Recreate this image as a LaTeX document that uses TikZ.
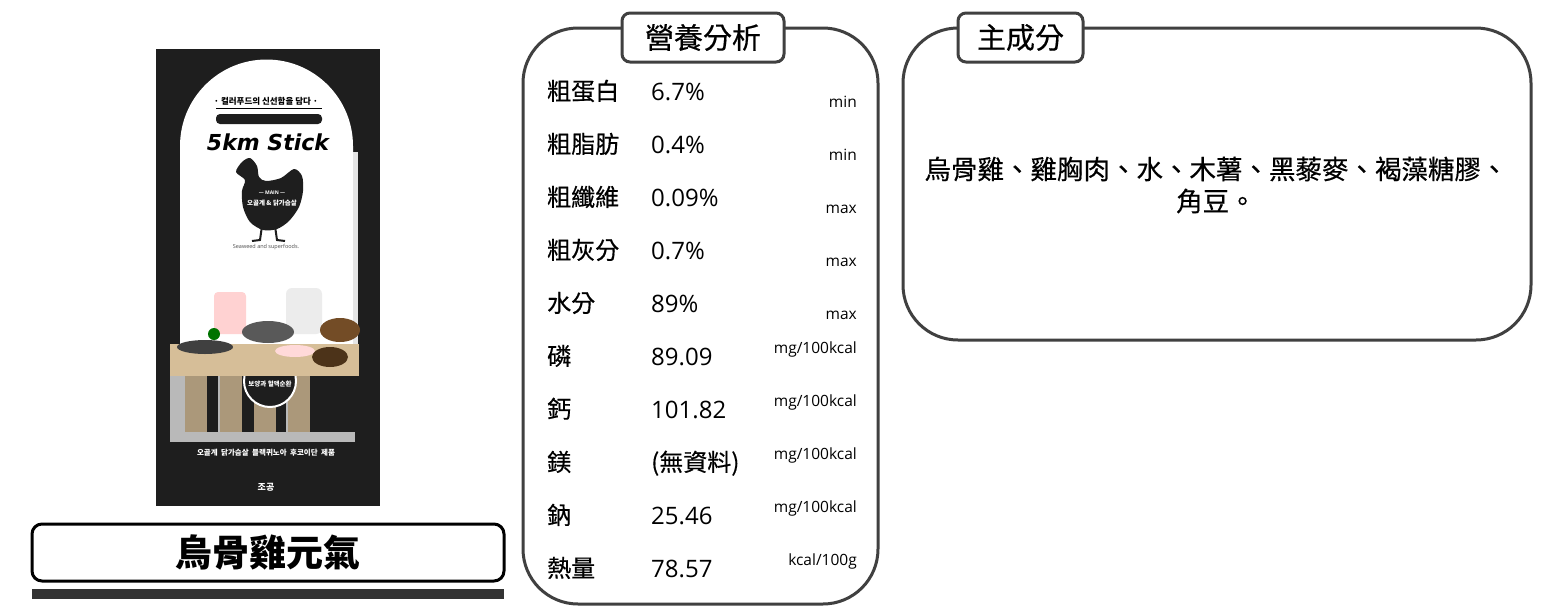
\documentclass[tikz,border=0pt]{standalone}
\usepackage{fontspec}
\setmainfont{Noto Sans CJK TC}
\newfontfamily\med[FakeBold=0.5]{Noto Sans CJK TC}
\newfontfamily\latin{Open Sans}
\newfontfamily\kr{Noto Sans CJK KR}
\newfontfamily\logo{DejaVu Sans}
\definecolor{frame}{HTML}{404040}
\definecolor{bar}{HTML}{333333}
\definecolor{pack}{HTML}{1E1E1E}
\definecolor{board}{HTML}{D6BE98}
\tikzstyle{panel} = [draw=frame, line width=3pt, rounded corners=55pt, inner sep=0pt]
\tikzstyle{tab} = [draw=frame, line width=3pt, fill=white, rounded corners=8pt, minimum height=49pt, inner sep=0pt, font=\med\fontsize{29}{32}\selectfont]
\tikzstyle{namebox} = [draw=black, line width=3pt, rounded corners=10pt, minimum width=472pt, minimum height=57pt, font=\bfseries\fontsize{37}{40}\selectfont]
\tikzstyle{lbl} = [anchor=base west, inner sep=0pt, font=\med\fontsize{24}{28}\selectfont]
\tikzstyle{val} = [anchor=base west, inner sep=0pt, font=\latin\fontsize{24}{28}\selectfont]
\tikzstyle{unit} = [anchor=base east, inner sep=0pt, font=\latin\fontsize{15.5}{18}\selectfont]
\tikzstyle{tiny} = [text=white, inner sep=0pt, font=\kr\bfseries\fontsize{6.5}{7}\selectfont]

\begin{document}
\begin{tikzpicture}[x=1pt, y=-1pt]
    \useasboundingbox[fill=white] (0,0) rectangle (1559,614);
    % product package
    \fill[pack] (156,49) rectangle (380,506);
    \fill[white] (180,415) -- (180,146) arc[start angle=180, end angle=360, radius=86.5] -- (353,415) -- cycle;
    \fill[gray!20] (353,152) rectangle (358,415);
    \node[text=black, inner sep=0pt, font=\kr\bfseries\fontsize{8.5}{9}\selectfont] (k1) at (266,101) {·\ 컬러푸드의 신선함을 담다\ ·};
    \draw[black, line width=0.6pt] (216,108) -- (322,108);
    \fill[pack, rounded corners=4pt] (216,114) rectangle (322,124);
    \node[text=black, inner sep=0pt, font=\logo\bfseries\itshape\fontsize{22}{24}\selectfont] (logo) at (268,142) {5km Stick};
    \fill[pack] plot[smooth cycle] coordinates {(236,172) (242,162) (250,158) (257,166) (259,177) (266,181) (281,178) (294,169) (302,176) (303,191) (299,207) (289,221) (277,229) (263,230) (250,222) (243,207) (242,191) (245,180)};
    \draw[pack, line width=2pt] (262,226) -- (260,240) -- (252,241);
    \draw[pack, line width=2pt] (275,226) -- (277,240) -- (285,241);
    \node[tiny, font=\latin\bfseries\fontsize{5}{6}\selectfont] (k2) at (272,193) {— MAIN —};
    \node[tiny] (k3) at (272,203) {오골계 \& 닭가슴살};
    \node[text=black!70, inner sep=0pt, font=\latin\fontsize{5.5}{6}\selectfont] (k4) at (266,247) {Seaweed and superfoods.};
    \fill[pink!70, rounded corners=4pt] (214,292) rectangle (246,334);
    \fill[gray!15, rounded corners=6pt] (286,288) rectangle (322,334);
    \fill[gray!70!black] (268,332) ellipse[x radius=26, y radius=11];
    \fill[green!45!black] (214,334) circle[radius=6];
    \fill[brown!60!black] (340,330) ellipse[x radius=20, y radius=12];
    \fill[gray!55] (170,376) rectangle (355,442);
    \foreach \sx/\bw in {185/11, 220/13, 254/10, 288/64} {
        \fill[board!80!black] (\sx,376) rectangle ++(22,56);
        \fill[pack] (\sx+22,376) rectangle ++(\bw,56);
    }
    \fill[pack, draw=white, line width=2pt] (270,381) circle[radius=26];
    \node[tiny] (k5) at (270,384) {보양과 혈액순환};
    \fill[board] (170,344) rectangle (359,376);
    \fill[black!75] (205,347) ellipse[x radius=28, y radius=7];
    \fill[pink!60] (295,351) ellipse[x radius=20, y radius=6];
    \fill[brown!40!black] (330,357) ellipse[x radius=18, y radius=10];
    \node[tiny, font=\kr\bfseries\fontsize{7.5}{8}\selectfont] (k6) at (266,453) {오골계\ \ 닭가슴살\ \ 블랙퀴노아\ \ 후코이단\ \ 제품};
    \node[tiny, font=\kr\bfseries\fontsize{9}{10}\selectfont] (k7) at (266,487) {조공};
    % product name
    \node[namebox] (name) at (268,552.5) {烏骨雞元氣};
    \fill[bar] (32,589) rectangle (504,599);
    % nutrition panel
    \node[panel, minimum width=355pt, minimum height=576pt] (nutri) at (700.5,316) {};
    \node[tab, minimum width=162pt] (ntab) at (703,37.5) {營養分析};
    \node[lbl](l1) at (547,100){粗蛋白};
    \node[val](v1) at (651,100){6.7\%};
    \node[unit](u1) at (857,107){min};
    \node[lbl](l2) at (547,153){粗脂肪};
    \node[val](v2) at (651,153){0.4\%};
    \node[unit](u2) at (857,160){min};
    \node[lbl](l3) at (547,206){粗纖維};
    \node[val](v3) at (651,206){0.09\%};
    \node[unit](u3) at (857,213){max};
    \node[lbl](l4) at (547,259){粗灰分};
    \node[val](v4) at (651,259){0.7\%};
    \node[unit](u4) at (857,266){max};
    \node[lbl](l5) at (547,312){水分};
    \node[val](v5) at (651,312){89\%};
    \node[unit](u5) at (857,319){max};
    \node[lbl](l6) at (547,365){磷};
    \node[val](v6) at (651,365){89.09};
    \node[unit](u6) at (857,353){mg/100kcal};
    \node[lbl](l7) at (547,418){鈣};
    \node[val](v7) at (651,418){101.82};
    \node[unit](u7) at (857,406){mg/100kcal};
    \node[lbl](l8) at (547,471){鎂};
    \node[lbl](v8) at (651,471){(無資料)};
    \node[unit](u8) at (857,459){mg/100kcal};
    \node[lbl](l9) at (547,524){鈉};
    \node[val](v9) at (651,524){25.46};
    \node[unit](u9) at (857,512){mg/100kcal};
    \node[lbl](l10) at (547,577){熱量};
    \node[val](v10) at (651,577){78.57};
    \node[unit](u10) at (857,565){kcal/100g};
    % ingredient panel
    \node[panel, minimum width=628pt, minimum height=312pt] (ingr) at (1217,184) {};
    \node[tab, minimum width=125pt] (itab) at (1020.5,37.5) {主成分};
    \node[align=center, inner sep=0pt, font=\med\fontsize{26.5}{32}\selectfont] (list) at (1216,185) {烏骨雞、雞胸肉、水、木薯、黑藜麥、褐藻糖膠、\\角豆。};
\end{tikzpicture}
\end{document}
